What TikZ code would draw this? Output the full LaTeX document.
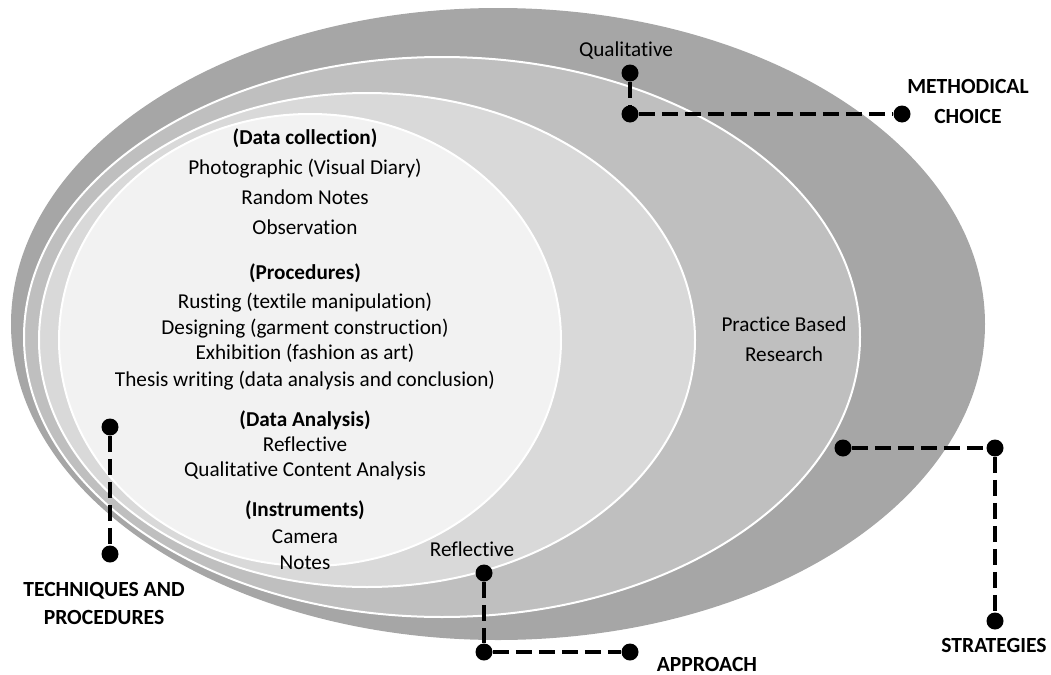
\documentclass[tikz,border=0pt]{standalone}
\usepackage{fontspec}
\setmainfont{Carlito}[Ligatures=NoCommon]
\usetikzlibrary{backgrounds}
\definecolor{ringdark}{HTML}{A6A6A6}
\definecolor{ringmid}{HTML}{BFBFBF}
\definecolor{ringlight}{HTML}{D9D9D9}
\definecolor{ringcore}{HTML}{F2F2F2}

\begin{document}
\begin{tikzpicture}[
    x=0.5pt, y=-0.5pt,
    font=\fontsize{10.6}{12}\selectfont,
    ring/.style={draw=white, line width=1pt},
    txt/.style={anchor=base, inner sep=0pt},
    head/.style={txt, font=\fontsize{10.6}{12}\selectfont\bfseries},
    tag/.style={txt, font=\fontsize{10.8}{12}\selectfont\bfseries},
    dot/.style={circle, fill=black, minimum size=8.5pt, inner sep=0pt},
    link/.style={line width=2.4pt, dash pattern=on 8pt off 3.5pt},
]
    \useasboundingbox (0,0) rectangle (1051,675);

    % ============================================================
    %  NESTED RINGS (outer to inner)
    % ============================================================
    \fill[ringdark] (498,324) ellipse [x radius=487, y radius=316];
    \filldraw[ring, fill=ringmid]   (442,337) ellipse [x radius=418, y radius=280];
    \filldraw[ring, fill=ringlight] (367,340) ellipse [x radius=328, y radius=247];
    \filldraw[ring, fill=ringcore]  (310,340) ellipse [x radius=251, y radius=226];

    % ============================================================
    %  INNER CONTENT (techniques and procedures)
    % ============================================================
    \node[head] (dc)  at (305,144) {(Data collection)};
    \node[txt]  (dc1) at (305,174) {Photographic (Visual Diary)};
    \node[txt]  (dc2) at (305,204) {Random Notes};
    \node[txt]  (dc3) at (305,234) {Observation};

    \node[head] (pr)  at (305,279) {(Procedures)};
    \node[txt]  (pr1) at (305,308) {Rusting (textile manipulation)};
    \node[txt]  (pr2) at (305,334) {Designing (garment construction)};
    \node[txt]  (pr3) at (305,359) {Exhibition (fashion as art)};
    \node[txt]  (pr4) at (305,386) {Thesis writing (data analysis and conclusion)};

    \node[head] (da)  at (305,426) {(Data Analysis)};
    \node[txt]  (da1) at (305,451) {Reflective};
    \node[txt]  (da2) at (305,476) {Qualitative Content Analysis};

    \node[head] (in)  at (305,516) {(Instruments)};
    \node[txt]  (in1) at (305,543) {Camera};
    \node[txt]  (in2) at (305,569) {Notes};

    % Ring captions
    \node[txt] (pbr1) at (784,331) {Practice Based};
    \node[txt] (pbr2) at (784,361) {Research};
    \node[txt] (qual) at (626,56)  {Qualitative};
    \node[txt] (refl) at (472,556) {Reflective};

    % ============================================================
    %  CALLOUT DOTS
    % ============================================================
    \node[dot] (mq) at (630,73)  {};
    \node[dot] (mc) at (630,114) {};
    \node[dot] (mr) at (902,114) {};

    \node[dot] (sl) at (843,448) {};
    \node[dot] (sc) at (995,448) {};
    \node[dot] (sb) at (995,621) {};

    \node[dot] (tt) at (110,427) {};
    \node[dot] (tb) at (110,554) {};

    \node[dot] (at) at (484,573) {};
    \node[dot] (ac) at (484,652) {};
    \node[dot] (ar) at (630,652) {};

    % ============================================================
    %  CALLOUT LINKS (dashed)
    % ============================================================
    \draw[link] (mq) -- (mc);
    \draw[link] (mc) -- (mr);
    \draw[link] (sl) -- (sc);
    \draw[link] (sc) -- (sb);
    \draw[link] (tt) -- (tb);
    \draw[link] (at) -- (ac);
    \draw[link] (ac) -- (ar);

    % Layer tags
    \node[tag] (meth1) at (968,93)  {METHODICAL};
    \node[tag] (meth2) at (968,123) {CHOICE};
    \node[tag] (tech1) at (104,596) {TECHNIQUES AND};
    \node[tag] (tech2) at (104,624) {PROCEDURES};
    \node[tag] (appr)  at (707,671) {APPROACH};
    \node[tag] (strat) at (994,652) {STRATEGIES};

\end{tikzpicture}
\end{document}
